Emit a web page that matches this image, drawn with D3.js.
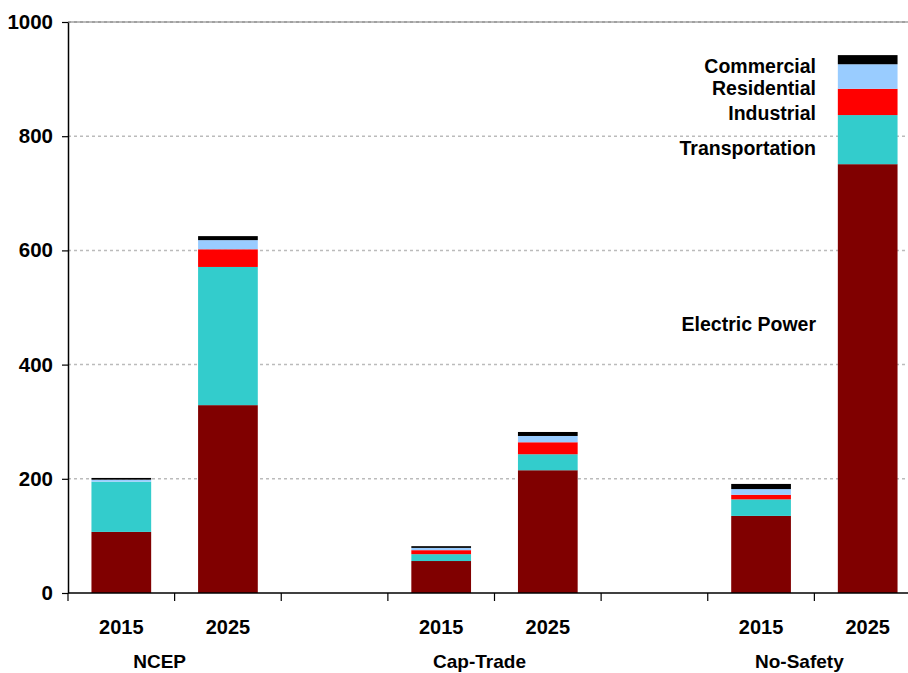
<!DOCTYPE html>
<html>
<head>
<meta charset="utf-8">
<script src="https://cdn.jsdelivr.net/npm/d3@7"></script>
<style>
  html, body { margin: 0; padding: 0; background: #fff; }
  svg { display: block; font-family: Arial, "Liberation Sans", sans-serif; font-weight: bold; }
</style>
</head>
<body>
<svg id="chart" width="908" height="673"></svg>
<script>
// ---- Data ----
const categoryKeys = ["NCEP-2015", "NCEP-2025", "gap1", "Cap-2015", "Cap-2025", "gap2", "NoS-2015", "NoS-2025"];
const categoryLabels = ["2015", "2025", "", "2015", "2025", "", "2015", "2025"];
const groups = ["NCEP", "Cap-Trade", "No-Safety"];
const groupAfter = [0, 3, 6]; // index of first year in each group
const seriesNames = ["Electric Power", "Transportation", "Industrial", "Residential", "Commercial"];
const electric    = [107, 329, 0, 56, 215, 0, 135, 751];
const transport   = [88, 242, 0, 12, 28, 0, 29, 86];
const industrial  = [0, 31, 0, 7, 21, 0, 8, 46];
const residential = [3.5, 16, 0, 4, 11, 0, 10, 43];
const commercial  = [3, 7, 0, 3, 7, 0, 9, 16];
const yTicks = [0, 200, 400, 600, 800, 1000];
const legendValues = [471, 779, 841, 884, 923]; // label positions in data units
const colors = ["#800000", "#33CCCC", "#FF0000", "#99CCFF", "#000000"];

// ---- Build table ----
const seriesValues = [electric, transport, industrial, residential, commercial];
const table = categoryKeys.map((k, i) => {
  const row = { key: k };
  seriesNames.forEach((s, j) => row[s] = seriesValues[j][i]);
  return row;
});
const stacked = d3.stack().keys(seriesNames)(table);

const svg = d3.select("#chart");
const x = d3.scaleBand().domain(categoryKeys).range([68, 921]).paddingInner(0.44).paddingOuter(0.22);
const y = d3.scaleLinear().domain([0, 1000]).range([593, 22]);

// gridlines
svg.append("g").selectAll("line").data(yTicks.filter(t => t > 0)).join("line")
  .attr("x1", 68).attr("x2", 908)
  .attr("y1", d => y(d)).attr("y2", d => y(d))
  .attr("stroke", "#bbbbbb").attr("stroke-width", 1.5).attr("stroke-dasharray", "3,3");
svg.append("line").attr("x1", 68).attr("x2", 908).attr("y1", y(1000)).attr("y2", y(1000))
  .attr("stroke", "#777").attr("stroke-width", 1);

// bars
svg.append("g").selectAll("g").data(stacked).join("g")
  .attr("fill", (d, i) => colors[i])
  .selectAll("rect").data(d => d.filter(p => p[1] - p[0] > 0)).join("rect")
  .attr("x", d => x(d.data.key))
  .attr("width", x.bandwidth())
  .attr("y", d => y(d[1]))
  .attr("height", d => y(d[0]) - y(d[1]));

// y axis
const yAxis = d3.axisLeft(y).tickValues(yTicks).tickFormat(d3.format("d")).tickSize(6).tickPadding(9).tickSizeOuter(0);
const gy = svg.append("g").attr("transform", "translate(68,0)").call(yAxis);
gy.attr("font-family", "Arial, 'Liberation Sans', sans-serif").attr("font-size", 20.5);
gy.select(".domain").attr("stroke", "#000").attr("stroke-width", 1.5);
gy.selectAll(".tick line").attr("stroke", "#000").attr("stroke-width", 1.2);
gy.selectAll(".tick text").attr("font-size", 20.5).attr("font-weight", "bold").attr("fill", "#000");

// x axis
const step = x.step();
const bounds = d3.range(categoryKeys.length + 1).map(i => 68 + i * step);
svg.append("line").attr("x1", 68).attr("x2", 921).attr("y1", y(0)).attr("y2", y(0))
  .attr("stroke", "#000").attr("stroke-width", 1.5);
svg.append("g").selectAll("line").data(bounds).join("line")
  .attr("x1", d => d).attr("x2", d => d).attr("y1", y(0)).attr("y2", y(0) + 8)
  .attr("stroke", "#000").attr("stroke-width", 1.2);
svg.append("g").selectAll("text").data(categoryKeys).join("text")
  .attr("x", d => x(d) + x.bandwidth() / 2)
  .attr("y", 627)
  .attr("text-anchor", "middle").attr("dominant-baseline", "central")
  .attr("font-size", 20).attr("fill", "#000")
  .text((d, i) => categoryLabels[i]);
svg.append("g").selectAll("text").data(groups).join("text")
  .attr("x", (d, i) => x(categoryKeys[groupAfter[i] + 1]) - step * 0.22 - 15)
  .attr("y", 661)
  .attr("text-anchor", "middle").attr("dominant-baseline", "central")
  .attr("font-size", 19).attr("fill", "#000")
  .text(d => d);

// series labels
svg.append("g").selectAll("text").data(seriesNames).join("text")
  .attr("x", 816)
  .attr("y", (d, i) => y(legendValues[i]))
  .attr("text-anchor", "end").attr("dominant-baseline", "central")
  .attr("font-size", 19.5).attr("fill", "#000")
  .text(d => d);
</script>
</body>
</html>
